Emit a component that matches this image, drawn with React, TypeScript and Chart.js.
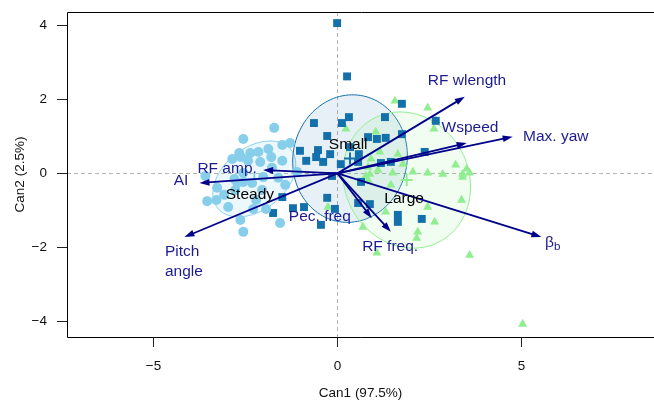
import React, { useEffect, useRef } from 'react';
import { Chart, registerables } from 'chart.js';
Chart.register(...registerables);

const FONT = '"Liberation Sans", Arial, Helvetica, sans-serif';

// ---- data (canonical scores) ----
const steadyX = [-1.72, -2.56, -1.29, -1.5, -1.88, -2.15, -1.8, -2.1, -1.5, -2.67, -2.86, -2.37, -2.62, -2.43, -1.78, -3.27, -3.54, -3.29, -2.72, -2.56, -2.32, -2.97, -2.64, -2.29, -1.94, -2.56, -2.8, -2.02, -3.59, -2.56, -1.56, -1.1, -1.61, -2.21, -2.78, -3.08, -2.05, -1.42];
const steadyY = [1.23, 0.93, 0.82, 0.77, 0.66, 0.58, 0.44, 0.31, 0.34, 0.55, 0.39, 0.55, 0.44, 0.34, 0.15, -0.39, -0.75, -0.72, -0.26, -0.23, -0.26, -0.91, -1.26, -0.96, -0.96, 0.01, -0.15, -0.1, -0.07, -1.58, -1.34, 0.04, -0.12, -0.72, -0.45, -0.58, -0.45, -0.31];

const smallX = [-0.01, 0.26, 1.75, -0.64, 0.31, 0.12, 1.29, 2.67, -0.28, 0.83, 1.07, 1.31, 1.75, -1.02, -0.53, -0.2, -0.85, -0.58, -0.39, 0.09, 0.58, 0.56, 1.18, 1.45, 2.37, -0.15, 0.64, -1.5, -0.28, -1.75, -1.21, -0.91, -0.45, -0.07, 0.56, 0.88, 1.64, 1.64, 2.29, 0.34];
const smallY = [4.06, 2.62, 1.88, 1.36, 1.52, 1.36, 1.52, 1.42, 1.01, 0.98, 0.93, 0.96, 1.06, 0.61, 0.63, 0.52, 0.34, 0.44, 0.31, 0.25, 0.52, 0.31, 0.28, 0.31, 0.58, -0.07, -0.23, -0.64, -0.66, -1.07, -0.94, -0.91, -1.39, -0.96, -0.8, -0.83, -1.12, -1.31, -1.23, 0.71];

const largeX = [1.56, 2.45, 2.67, 0.23, 1.04, 2.62, 1.64, 0.91, 0.83, 1.1, 1.78, 0.88, 1.5, 2.45, 2.86, 3.4, 3.21, 3.51, 3.59, 3.4, 2.05, 0.77, 0.83, 2.45, 3.37, 1.31, 2.64, 2.18, 2.15, 0.69, 1.07, 3.59, 5.03, -0.26, 1.45, 1.15];
const largeY = [1.96, 1.77, 1.44, 1.2, 1.12, 1.2, 0.52, 0.39, 0.17, 0.09, 0.25, -0.02, 0.01, 0.01, -0.02, -0.02, 0.23, 0.12, 0.01, -0.1, 0.04, -0.07, -0.18, -0.91, -0.72, -1.04, -1.31, -1.58, -1.75, -1.45, -2.15, -2.21, -4.07, -0.91, -0.31, 0.58];

const groupNames = ['Steady', 'Small', 'Large'];
const groupCenterX = [-2.26, 0.34, 1.88];
const groupCenterY = [-0.15, 0.4, -0.18];
const ellipseA = [1.27, 1.73, 1.89];
const ellipseB = [0.84, 1.55, 1.68];
const ellipseAngle = [38, 78, -60];
const groupLabelX = [-2.38, 0.29, 1.81];
const groupLabelY = [-0.58, 0.77, -0.69];

const vectorNames = ['RF wlength', 'Wspeed', 'Max. yaw', 'β_b', 'RF freq.', 'Pec. freq', 'RF amp.', 'AI', 'Pitch\nangle'];
const vectorX = [3.46, 3.51, 4.76, 5.54, 1.45, 0.93, -2.02, -3.75, -4.16];
const vectorY = [2.07, 0.82, 0.99, -1.72, -1.58, -1.21, 0.09, -0.26, -1.72];
const vectorLabelX = [3.52, 3.6, 5.04, 5.64, 1.43, -0.48, -3.0, -4.25, -4.69];
const vectorLabelY = [2.5, 1.23, 0.98, -1.86, -1.97, -1.18, 0.12, -0.21, -2.12];
const vectorLabelAlign = ['center', 'center', 'left', 'left', 'center', 'center', 'center', 'center', 'left'];

const xTicks = [-5, 0, 5];
const xTickLabels = ['\u22125', '0', '5'];
const yTicks = [-4, -2, 0, 2, 4];
const yTickLabels = ['\u22124', '\u22122', '0', '2', '4'];
const xTitle = 'Can1 (97.5%)';
const yTitle = 'Can2 (2.5%)';

// ---- styles ----
const X_MIN = -7.35, X_MAX = 8.6, Y_MIN = -4.42, Y_MAX = 4.36;
const groupColors = ['#87CEEB', '#1470AB', '#90EE90'];
const groupFills = ['rgba(135,206,235,0.15)', 'rgba(20,112,171,0.10)', 'rgba(144,238,144,0.13)'];
const ARROW = '#00008B';
const ARROW_TEXT = '#1c1c90';

const pts = (xs: number[], ys: number[]) => xs.map((v, i) => ({ x: v, y: ys[i] }));

const overlay = {
  id: 'overlay',
  beforeDatasetsDraw(chart: any) {
    const { ctx, chartArea: ca, scales } = chart;
    const sx = scales.x, sy = scales.y;
    ctx.save();
    ctx.beginPath();
    ctx.rect(ca.left, ca.top, ca.right - ca.left, ca.bottom - ca.top);
    ctx.clip();
    ctx.strokeStyle = '#b4b4b4';
    ctx.lineWidth = 1;
    ctx.setLineDash([4, 3]);
    const x0 = Math.round(sx.getPixelForValue(0)) + 0.5;
    const y0 = Math.round(sy.getPixelForValue(0)) + 0.5;
    ctx.beginPath();
    ctx.moveTo(x0, ca.top); ctx.lineTo(x0, ca.bottom);
    ctx.moveTo(ca.left, y0); ctx.lineTo(ca.right, y0);
    ctx.stroke();
    ctx.setLineDash([]);
    for (let g = 0; g < groupNames.length; g++) {
      const th = (ellipseAngle[g] * Math.PI) / 180;
      ctx.beginPath();
      for (let k = 0; k <= 120; k++) {
        const t = (k / 120) * Math.PI * 2;
        const ex = groupCenterX[g] + ellipseA[g] * Math.cos(th) * Math.cos(t) - ellipseB[g] * Math.sin(th) * Math.sin(t);
        const ey = groupCenterY[g] + ellipseA[g] * Math.sin(th) * Math.cos(t) + ellipseB[g] * Math.cos(th) * Math.sin(t);
        const px = sx.getPixelForValue(ex), py = sy.getPixelForValue(ey);
        if (k === 0) ctx.moveTo(px, py); else ctx.lineTo(px, py);
      }
      ctx.closePath();
      ctx.fillStyle = groupFills[g];
      ctx.fill();
      ctx.strokeStyle = groupColors[g];
      ctx.lineWidth = 1;
      ctx.stroke();
    }
    ctx.restore();
  },
  afterDatasetsDraw(chart: any) {
    const { ctx, chartArea: ca, scales } = chart;
    const sx = scales.x, sy = scales.y;
    ctx.save();
    const ox = sx.getPixelForValue(0), oy = sy.getPixelForValue(0);
    ctx.strokeStyle = ARROW;
    ctx.fillStyle = ARROW;
    ctx.lineWidth = 1.8;
    for (let i = 0; i < vectorNames.length; i++) {
      const ex = sx.getPixelForValue(vectorX[i]), ey = sy.getPixelForValue(vectorY[i]);
      const ang = Math.atan2(ey - oy, ex - ox);
      const len = 10, hw = 3.4;
      const bx = ex - len * Math.cos(ang), by = ey - len * Math.sin(ang);
      ctx.beginPath();
      ctx.moveTo(ox, oy); ctx.lineTo(bx + 2 * Math.cos(ang), by + 2 * Math.sin(ang));
      ctx.stroke();
      ctx.beginPath();
      ctx.moveTo(ex, ey);
      ctx.lineTo(bx - hw * Math.sin(ang), by + hw * Math.cos(ang));
      ctx.lineTo(bx + hw * Math.sin(ang), by - hw * Math.cos(ang));
      ctx.closePath();
      ctx.fill();
    }
    ctx.fillStyle = ARROW_TEXT;
    ctx.textBaseline = 'middle';
    const fs = 15.5;
    ctx.font = `${fs}px ${FONT}`;
    for (let i = 0; i < vectorNames.length; i++) {
      const lx = sx.getPixelForValue(vectorLabelX[i]), ly = sy.getPixelForValue(vectorLabelY[i]);
      ctx.textAlign = vectorLabelAlign[i] as CanvasTextAlign;
      const name = vectorNames[i];
      if (name.includes('_')) {
        const [base, sub] = name.split('_');
        ctx.textAlign = 'left';
        ctx.fillText(base, lx, ly);
        const w = ctx.measureText(base).width;
        ctx.font = `${fs * 0.75}px ${FONT}`;
        ctx.fillText(sub, lx + w, ly + 5);
        ctx.font = `${fs}px ${FONT}`;
      } else {
        name.split('\n').forEach((line, j) => ctx.fillText(line, lx, ly + j * 20));
      }
    }
    ctx.fillStyle = '#000';
    ctx.textAlign = 'center';
    for (let g = 0; g < groupNames.length; g++) {
      ctx.fillText(groupNames[g], sx.getPixelForValue(groupLabelX[g]), sy.getPixelForValue(groupLabelY[g]));
    }
    ctx.strokeStyle = '#000';
    ctx.lineWidth = 1;
    ctx.beginPath();
    ctx.moveTo(ca.right + 2, Math.round(ca.top) + 0.5);
    ctx.lineTo(Math.round(ca.left) + 0.5, Math.round(ca.top) + 0.5);
    ctx.lineTo(Math.round(ca.left) + 0.5, Math.round(ca.bottom) + 0.5);
    ctx.lineTo(ca.right + 2, Math.round(ca.bottom) + 0.5);
    ctx.stroke();
    ctx.restore();
  },
};

export default function App() {
  const ref = useRef<HTMLCanvasElement | null>(null);
  useEffect(() => {
    if (!ref.current) return;
    const chart = new Chart(ref.current, {
      type: 'scatter',
      data: {
        datasets: [
          { label: 'Steady', data: pts(steadyX, steadyY), pointStyle: 'circle', pointRadius: 5, backgroundColor: groupColors[0], borderWidth: 0 },
          { label: 'Small', data: pts(smallX, smallY), pointStyle: 'rect', pointRadius: 5.6, backgroundColor: groupColors[1], borderWidth: 0 },
          { label: 'Large', data: pts(largeX, largeY), pointStyle: 'triangle', pointRadius: 5.2, backgroundColor: groupColors[2], borderWidth: 0 },
          { label: 'centroids', data: pts(groupCenterX, groupCenterY), pointStyle: 'cross', pointRadius: 6, borderColor: groupColors, borderWidth: 2, backgroundColor: 'transparent' },
        ],
      },
      options: {
        animation: false,
        responsive: false,
        devicePixelRatio: 1,
        events: [],
        layout: { autoPadding: false, padding: { top: 12, left: 0, right: 0, bottom: 0 } },
        plugins: { legend: { display: false }, tooltip: { enabled: false } },
        scales: {
          x: {
            type: 'linear',
            min: X_MIN,
            max: X_MAX,
            afterFit: (s: any) => { s.height = 65; s.paddingLeft = 0; s.paddingRight = 0; },
            afterBuildTicks: (s: any) => { s.ticks = xTicks.map((v) => ({ value: v })); },
            ticks: {
              callback: (v: any) => xTickLabels[xTicks.indexOf(Number(v))] ?? '',
              font: { family: FONT, size: 13.5 },
              color: '#111',
              padding: 11,
              maxRotation: 0,
              autoSkip: false,
            },
            grid: { drawOnChartArea: false, drawTicks: true, tickLength: 10, color: '#222', lineWidth: 1 },
            border: { display: false },
            title: { display: true, text: xTitle, font: { family: FONT, size: 13.5 }, color: '#111', padding: { top: 0, bottom: 1 } },
          },
          y: {
            type: 'linear',
            min: Y_MIN,
            max: Y_MAX,
            afterFit: (s: any) => { s.width = 67; s.paddingTop = 0; s.paddingBottom = 0; },
            afterBuildTicks: (s: any) => { s.ticks = yTicks.map((v) => ({ value: v })); },
            ticks: {
              callback: (v: any) => yTickLabels[yTicks.indexOf(Number(v))] ?? '',
              font: { family: FONT, size: 13.5 },
              color: '#111',
              padding: 10,
              autoSkip: false,
            },
            grid: { drawOnChartArea: false, drawTicks: true, tickLength: 10, color: '#222', lineWidth: 1 },
            border: { display: false },
            title: { display: true, text: yTitle, font: { family: FONT, size: 13.5 }, color: '#111', padding: { top: 12, bottom: 0 } },
          },
        },
      },
      plugins: [overlay],
    } as any);
    return () => chart.destroy();
  }, []);
  return (
    <div style={{ position: 'fixed', left: 0, top: 0, width: 654, height: 402, background: '#fff' }}>
      <canvas ref={ref} width={654} height={402} style={{ display: 'block' }} />
    </div>
  );
}
